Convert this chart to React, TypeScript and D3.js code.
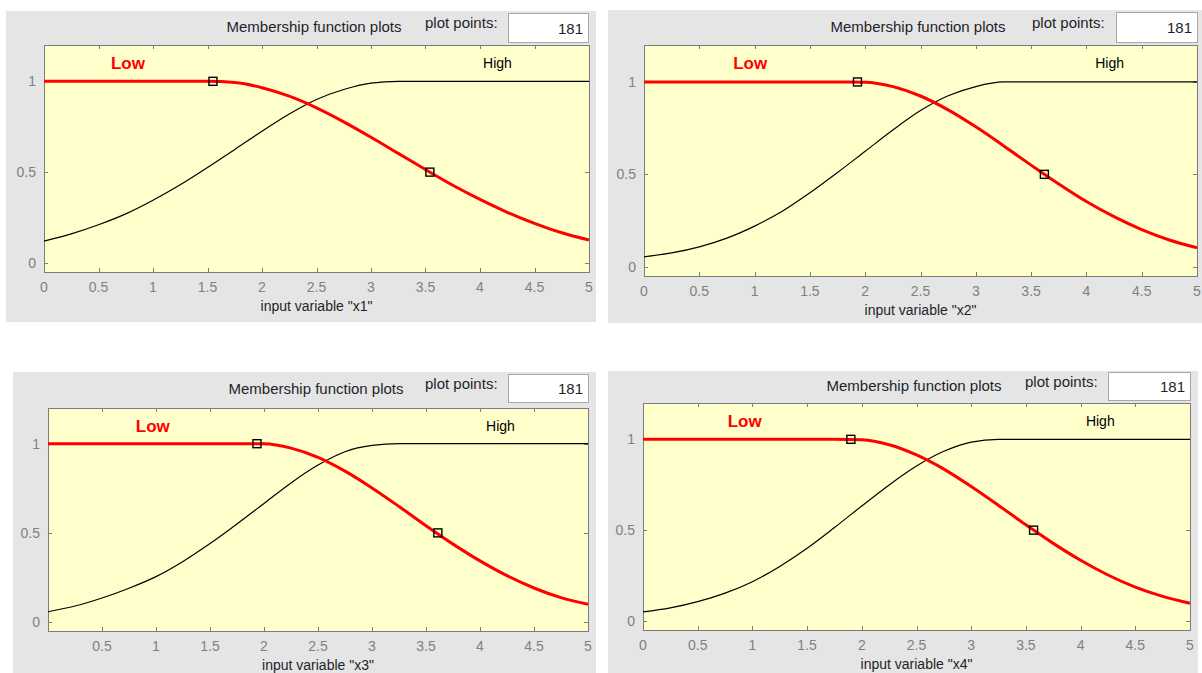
import React from "react";
import * as d3 from "d3";

// sampling grid of the input variable
const xGrid = [0, 0.25, 0.5, 0.75, 1, 1.25, 1.5, 1.75, 2, 2.25, 2.5, 2.75, 3, 3.25, 3.5, 3.75, 4, 4.25, 4.5, 4.75, 5];

// membership values
const lowX1 = [1, 1, 1, 1, 1, 1, 1, 0.993, 0.965, 0.918, 0.854, 0.777, 0.692, 0.603, 0.514, 0.428, 0.35, 0.279, 0.218, 0.166, 0.126];
const highX1 = [0.12, 0.16, 0.21, 0.27, 0.345, 0.43, 0.525, 0.625, 0.725, 0.82, 0.9, 0.955, 0.99, 1, 1, 1, 1, 1, 1, 1, 1];
const lowX2 = [1, 1, 1, 1, 1, 1, 1, 1, 0.999, 0.975, 0.924, 0.849, 0.757, 0.655, 0.55, 0.448, 0.353, 0.271, 0.201, 0.145, 0.103];
const highX2 = [0.054, 0.075, 0.108, 0.155, 0.22, 0.3, 0.4, 0.51, 0.625, 0.74, 0.845, 0.925, 0.975, 1, 1, 1, 1, 1, 1, 1, 1];
const lowX3 = [1, 1, 1, 1, 1, 1, 1, 1, 0.999, 0.975, 0.923, 0.846, 0.752, 0.648, 0.54, 0.437, 0.343, 0.26, 0.191, 0.137, 0.1];
const highX3 = [0.058, 0.09, 0.135, 0.19, 0.255, 0.34, 0.44, 0.55, 0.665, 0.78, 0.88, 0.955, 0.99, 1, 1, 1, 1, 1, 1, 1, 1];
const lowX4 = [1, 1, 1, 1, 1, 1, 1, 1, 0.997, 0.97, 0.914, 0.836, 0.74, 0.636, 0.529, 0.427, 0.334, 0.253, 0.186, 0.135, 0.097];
const highX4 = [0.05, 0.072, 0.106, 0.153, 0.216, 0.3, 0.4, 0.514, 0.633, 0.749, 0.853, 0.934, 0.985, 1, 1, 1, 1, 1, 1, 1, 1];

// parameter markers of the selected (Low) function: [x, y]
const markersX1 = [[1.55, 1], [3.54, 0.5]];
const markersX2 = [[1.93, 1], [3.62, 0.5]];
const markersX3 = [[1.935, 1], [3.61, 0.5]];
const markersX4 = [[1.9, 1], [3.57, 0.5]];

const variableNames = ["x1", "x2", "x3", "x4"];
const mfNames = ["Low", "High"];
const xTicks = [0, 0.5, 1, 1.5, 2, 2.5, 3, 3.5, 4, 4.5, 5];
const yTicks = [0, 0.5, 1];
const plotPoints = "181";
const titleText = "Membership function plots";
const plotPointsText = "plot points:";

const panels = [
  { low: lowX1, high: highX1, markers: markersX1, name: variableNames[0], showZero: true,
    grey: { x: 6, y: 11, w: 590, h: 311 }, ax: { l: 44, t: 45, r: 589, b: 272 },
    titleX: 314, titleY: 32, ppX: 425, ppY: 28, box: { x: 508, y: 13, w: 80, h: 29 }, lowLx: 0.77, highLx: 4.16 },
  { low: lowX2, high: highX2, markers: markersX2, name: variableNames[1], showZero: true,
    grey: { x: 608, y: 10, w: 594, h: 313 }, ax: { l: 644, t: 45, r: 1197, b: 276 },
    titleX: 918, titleY: 32, ppX: 1032, ppY: 28, box: { x: 1116, y: 12, w: 81, h: 30 }, lowLx: 0.96, highLx: 4.21 },
  { low: lowX3, high: highX3, markers: markersX3, name: variableNames[2], showZero: false,
    grey: { x: 13, y: 372, w: 583, h: 301 }, ax: { l: 48, t: 408, r: 588, b: 631 },
    titleX: 316, titleY: 394, ppX: 425, ppY: 389, box: { x: 508, y: 374, w: 80, h: 28 }, lowLx: 0.97, highLx: 4.19 },
  { low: lowX4, high: highX4, markers: markersX4, name: variableNames[3], showZero: true,
    grey: { x: 608, y: 371, w: 590, h: 302 }, ax: { l: 643, t: 403, r: 1190, b: 630 },
    titleX: 914, titleY: 391, ppX: 1025, ppY: 387, box: { x: 1108, y: 372, w: 82, h: 28 }, lowLx: 0.93, highLx: 4.18 },
];

const FONT = "'Liberation Sans', Arial, sans-serif";
const AXIS_COLOR = "#7c7c7c";
const TICK_TEXT = "#808080";

function Panel({ p }: { p: any }) {
  const x = d3.scaleLinear().domain([0, 5]).range([p.ax.l, p.ax.r]);
  const y = d3.scaleLinear().domain([-0.05, 1.2]).range([p.ax.b, p.ax.t]);
  const line = d3.line<number>().x((_, i) => x(xGrid[i])).y((d) => y(d)).curve(d3.curveMonotoneX);
  const tl = 4;
  return (
    <g>
      <rect x={p.grey.x} y={p.grey.y} width={p.grey.w} height={p.grey.h} fill="#e5e5e5" />
      <text x={p.titleX} y={p.titleY} textAnchor="middle" fontSize={15} fill="#1f1f2a" fontFamily={FONT}>{titleText}</text>
      <text x={p.ppX} y={p.ppY} fontSize={15} fill="#1f1f2a" fontFamily={FONT}>{plotPointsText}</text>
      <rect x={p.box.x + 0.5} y={p.box.y + 0.5} width={p.box.w} height={p.box.h} fill="#ffffff" stroke="#a8a8a8" />
      <text x={p.box.x + p.box.w - 5} y={p.box.y + p.box.h / 2 + 6} textAnchor="end" fontSize={15} fill="#1f1f2a" fontFamily={FONT}>{plotPoints}</text>
      <rect x={p.ax.l + 0.5} y={p.ax.t + 0.5} width={p.ax.r - p.ax.l} height={p.ax.b - p.ax.t} fill="#ffffcc" stroke={AXIS_COLOR} />
      {xTicks.map((t) => (
        <g key={"xt" + t}>
          <line x1={Math.round(x(t)) + 0.5} x2={Math.round(x(t)) + 0.5} y1={p.ax.b} y2={p.ax.b - tl} stroke={AXIS_COLOR} />
          <line x1={Math.round(x(t)) + 0.5} x2={Math.round(x(t)) + 0.5} y1={p.ax.t} y2={p.ax.t + tl} stroke={AXIS_COLOR} />
          {(t !== 0 || p.showZero) && (
            <text x={x(t)} y={p.ax.b + 20} textAnchor="middle" fontSize={14} fill={TICK_TEXT} fontFamily={FONT}>{String(t)}</text>
          )}
        </g>
      ))}
      {yTicks.map((t) => (
        <g key={"yt" + t}>
          <line x1={p.ax.l} x2={p.ax.l + tl} y1={Math.round(y(t)) + 0.5} y2={Math.round(y(t)) + 0.5} stroke={AXIS_COLOR} />
          <line x1={p.ax.r} x2={p.ax.r - tl} y1={Math.round(y(t)) + 0.5} y2={Math.round(y(t)) + 0.5} stroke={AXIS_COLOR} />
          <text x={p.ax.l - 8} y={y(t) + 5} textAnchor="end" fontSize={14} fill={TICK_TEXT} fontFamily={FONT}>{String(t)}</text>
        </g>
      ))}
      <path d={line(p.high) || ""} fill="none" stroke="#000000" strokeWidth={1.2} />
      <path d={line(p.low) || ""} fill="none" stroke="#ff0000" strokeWidth={3} />
      {p.markers.map((m: number[], i: number) => (
        <rect key={"m" + i} x={x(m[0]) - 4} y={y(m[1]) - 4} width={8} height={8} fill="none" stroke="#000000" strokeWidth={1.4} />
      ))}
      <text x={x(p.lowLx)} y={y(1.1) + 6} textAnchor="middle" fontSize={17} fontWeight="bold" fill="#ff0000" fontFamily={FONT}>{mfNames[0]}</text>
      <text x={x(p.highLx)} y={y(1.1) + 5} textAnchor="middle" fontSize={14} fill="#000000" fontFamily={FONT}>{mfNames[1]}</text>
      <text x={(p.ax.l + p.ax.r) / 2} y={p.ax.b + 39} textAnchor="middle" fontSize={14} fill="#1f1f2a" fontFamily={FONT}>{`input variable "${p.name}"`}</text>
    </g>
  );
}

export default function App() {
  return (
    <svg width={1202} height={673} style={{ position: "absolute", left: 0, top: 0, background: "#ffffff" }}>
      {panels.map((p, i) => (
        <Panel key={i} p={p} />
      ))}
    </svg>
  );
}
